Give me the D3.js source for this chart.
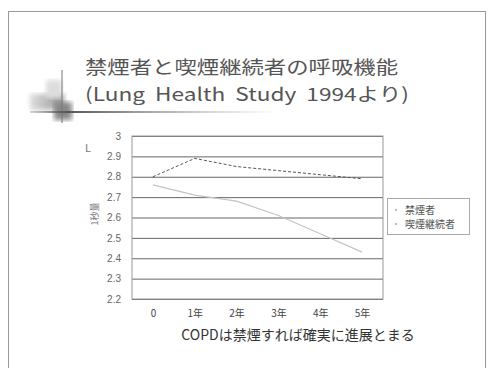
<!DOCTYPE html>
<html>
<head>
<meta charset="utf-8">
<title>禁煙者と喫煙継続者の呼吸機能</title>
<style>
body { margin: 0; background: #fff; }
svg text { font-family: "Noto Sans CJK JP", "Noto Sans", sans-serif; }
</style>
<script src="https://d3js.org/d3.v7.min.js"></script>
</head>
<body>
<svg id="chart" width="494" height="368"></svg>
<script>
const years = ["0", "1年", "2年", "3年", "4年", "5年"];
const quitters = [2.80, 2.89, 2.85, 2.83, 2.81, 2.79];   // 禁煙者
const smokers = [2.76, 2.71, 2.68, 2.61, 2.52, 2.43];    // 喫煙継続者
const seriesNames = ["禁煙者", "喫煙継続者"];
const yTicks = [2.2, 2.3, 2.4, 2.5, 2.6, 2.7, 2.8, 2.9, 3];

const svg = d3.select("#chart");
const PLOT = { left: 132, right: 383, top: 136, bottom: 299 };

// slide frame
svg.append("rect")
   .attr("x", 8.5).attr("y", 11.5)
   .attr("width", 477).attr("height", 370)
   .attr("fill", "none").attr("stroke", "#999").attr("stroke-width", 1);

// title decoration
const defs = svg.append("defs");
defs.append("filter").attr("id", "blur")
    .append("feGaussianBlur").attr("stdDeviation", 2.5);
const grad = defs.append("linearGradient").attr("id", "fade");
grad.append("stop").attr("offset", "0%").attr("stop-color", "#777").attr("stop-opacity", 0.3);
grad.append("stop").attr("offset", "15%").attr("stop-color", "#555");
grad.append("stop").attr("offset", "100%").attr("stop-color", "#999").attr("stop-opacity", 0);
const boxGrad = defs.append("linearGradient").attr("id", "boxfade");
boxGrad.append("stop").attr("offset", "0%").attr("stop-color", "#ddd");
boxGrad.append("stop").attr("offset", "100%").attr("stop-color", "#999");

const deco = svg.append("g");
deco.append("rect").attr("x", 30).attr("y", 94).attr("width", 34).attr("height", 16)
    .attr("fill", "url(#boxfade)").attr("filter", "url(#blur)");
deco.append("rect").attr("x", 46).attr("y", 80).attr("width", 16).attr("height", 18)
    .attr("fill", "#ddd").attr("filter", "url(#blur)");
deco.append("rect").attr("x", 54).attr("y", 102).attr("width", 18).attr("height", 18)
    .attr("fill", "#888").attr("filter", "url(#blur)");
deco.append("line").attr("x1", 62).attr("x2", 62).attr("y1", 70).attr("y2", 123)
    .attr("stroke", "#777").attr("stroke-width", 1);
deco.append("rect").attr("x", 30).attr("y", 111).attr("width", 250).attr("height", 2)
    .attr("fill", "url(#fade)");

// title
svg.append("text").attr("x", 85).attr("y", 74)
   .attr("font-size", 18).attr("fill", "#555")
   .attr("textLength", 313).attr("lengthAdjust", "spacingAndGlyphs")
   .text("禁煙者と喫煙継続者の呼吸機能");
svg.append("text").attr("x", 85).attr("y", 101)
   .attr("font-size", 18).attr("fill", "#555")
   .attr("textLength", 324).attr("lengthAdjust", "spacingAndGlyphs")
   .attr("xml:space", "preserve")
   .text("(Lung  Health  Study  1994より)");

// scales
const x = d3.scalePoint().domain(years).range([PLOT.left, PLOT.right]).padding(0.5);
const y = d3.scaleLinear().domain([2.2, 3]).range([PLOT.bottom, PLOT.top]);

// grid lines
svg.append("g")
   .attr("transform", `translate(${PLOT.left},0)`)
   .call(d3.axisLeft(y).tickValues(yTicks).tickSize(-(PLOT.right - PLOT.left)).tickFormat(""))
   .call(g => g.select(".domain").remove())
   .call(g => g.selectAll("line").attr("stroke", "#666"));

// plot border
svg.append("rect")
   .attr("x", PLOT.left).attr("y", PLOT.top)
   .attr("width", PLOT.right - PLOT.left).attr("height", PLOT.bottom - PLOT.top)
   .attr("fill", "none").attr("stroke", "#999");

// y labels
svg.append("g")
   .attr("transform", `translate(${PLOT.left - 8},0)`)
   .call(d3.axisLeft(y).tickValues(yTicks).tickSize(0).tickFormat(d => d))
   .call(g => g.select(".domain").remove())
   .call(g => g.selectAll("text").attr("font-size", 10).attr("fill", "#666")
                .style("font-family", "'Liberation Sans', sans-serif"));

// x labels
svg.append("g")
   .attr("transform", `translate(0,${PLOT.bottom + 8})`)
   .call(d3.axisBottom(x).tickSize(0))
   .call(g => g.select(".domain").remove())
   .call(g => g.selectAll("text").attr("font-size", 10).attr("fill", "#444"));

// axis titles
svg.append("text").attr("x", 88).attr("y", 152).attr("text-anchor", "middle")
   .attr("font-size", 11).attr("fill", "#777").text("L");
svg.append("text").attr("transform", "translate(98,214) rotate(-90)")
   .attr("text-anchor", "middle").attr("font-size", 9).attr("fill", "#777").text("1秒量");

// lines
const line = d3.line().x((d, i) => x(years[i])).y(d => y(d));
svg.append("path").datum(smokers).attr("d", line)
   .attr("fill", "none").attr("stroke", "#c4c4c4").attr("stroke-width", 1.2);
svg.append("path").datum(quitters).attr("d", line)
   .attr("fill", "none").attr("stroke", "#555").attr("stroke-width", 1)
   .attr("stroke-dasharray", "3,2");

// legend
const lg = svg.append("g").attr("transform", "translate(387,198)");
lg.append("rect").attr("x", 0.5).attr("y", 0.5).attr("width", 82).attr("height", 36)
  .attr("fill", "#fff").attr("stroke", "#555").attr("stroke-dasharray", "1,1");
seriesNames.forEach((name, i) => {
    lg.append("circle").attr("cx", 9).attr("cy", 12 + i * 14).attr("r", 0.8).attr("fill", "#666");
    lg.append("text").attr("x", 18).attr("y", 16 + i * 14)
      .attr("font-size", 10).attr("fill", "#555").text(name);
});

// caption
svg.append("text").attr("x", 298).attr("y", 340).attr("text-anchor", "middle")
   .attr("font-size", 14).attr("fill", "#333")
   .text("COPDは禁煙すれば確実に進展とまる");
</script>
</body>
</html>
